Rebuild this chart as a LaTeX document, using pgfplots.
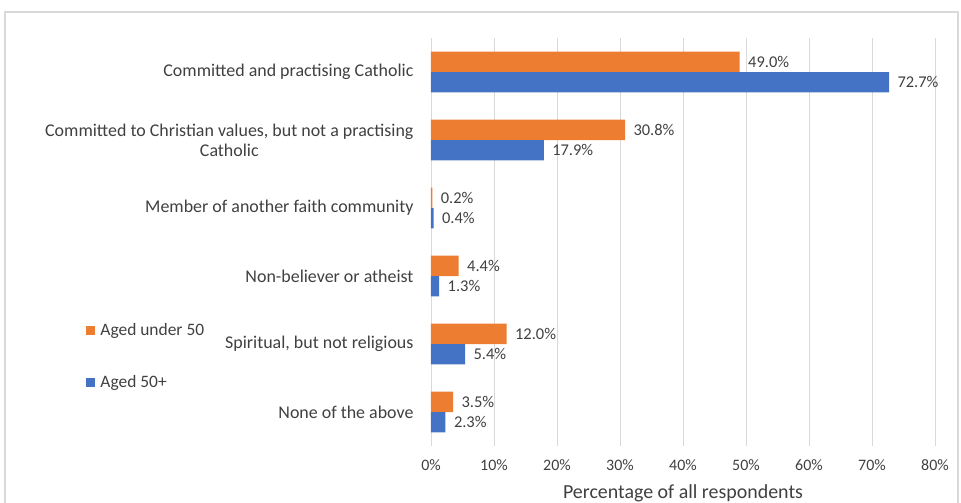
\documentclass[border=0pt]{standalone}
\usepackage{pgfplots}
\pgfplotsset{compat=1.18}
\usepackage{fontspec}
\setmainfont{Carlito}
\definecolor{corange}{HTML}{ED7D31}
\definecolor{cblue}{HTML}{4472C4}
\definecolor{ctext}{HTML}{404040}
\definecolor{cgrid}{HTML}{D9D9D9}
\begin{document}
\begin{tikzpicture}[font=\fontsize{18}{20}\selectfont]
\path[use as bounding box] (-431bp,-57bp) rectangle (530bp,446bp);
\draw[cgrid, line width=1.2bp] (-426bp,-80bp) -- (-426bp,434bp) -- (527bp,434bp) -- (527bp,-80bp);
\begin{axis}[
  xbar, scale only axis, width=504bp, height=408bp,
  at={(0,0)}, anchor=south west,
  xmin=0, xmax=80, ymin=-0.5, ymax=5.5, y dir=reverse,
  ytick={0,1,2,3,4,5},
  yticklabels={Committed and practising Catholic,
    {Committed to Christian values, but not a practising\\Catholic},
    Member of another faith community,
    Non-believer or atheist,
    {Spiritual, but not religious},
    None of the above},
  yticklabel style={align=center, text=ctext, xshift=-14bp, font=\fontsize{18}{20}\selectfont},
  xtick={0,10,20,30,40,50,60,70,80},
  xticklabels={0\%,10\%,20\%,30\%,40\%,50\%,60\%,70\%,80\%},
  xticklabel style={text=ctext, yshift=-10bp, font=\fontsize{16}{19}\selectfont},
  xlabel={Percentage of all respondents},
  xlabel style={text=ctext, font=\fontsize{20}{24}\selectfont, yshift=-7bp},
  xmajorgrids, grid style={draw=cgrid, line width=0.9bp},
  axis line style={draw=none}, major tick length=0pt,
  bar width=0.3,
  point meta=explicit symbolic,
  nodes near coords={\pgfplotspointmeta},
  nodes near coords style={anchor=west, text=ctext, xshift=5bp, font=\fontsize{16.5}{19}\selectfont},
  legend style={at={(-0.69,0.22)}, anchor=west, draw=none, fill=none,
    row sep=34bp, font=\fontsize{17.5}{20}\selectfont, text=ctext,
    /tikz/every odd column/.append style={column sep=3bp}},
  legend cell align=left,
  legend image code/.code={\fill[#1] (0bp,-4.5bp) rectangle (9bp,4.5bp);},
]
\addplot[fill=corange, draw=none, bar shift=-0.15] table[meta=lab] {
x y lab
49.0 0 49.0\%
30.8 1 30.8\%
0.2 2 0.2\%
4.4 3 4.4\%
12.0 4 12.0\%
3.5 5 3.5\%
};
\addplot[fill=cblue, draw=none, bar shift=0.15] table[meta=lab] {
x y lab
72.7 0 72.7\%
17.9 1 17.9\%
0.4 2 0.4\%
1.3 3 1.3\%
5.4 4 5.4\%
2.3 5 2.3\%
};
\legend{Aged under 50, Aged 50+}
\end{axis}
\end{tikzpicture}
\end{document}
